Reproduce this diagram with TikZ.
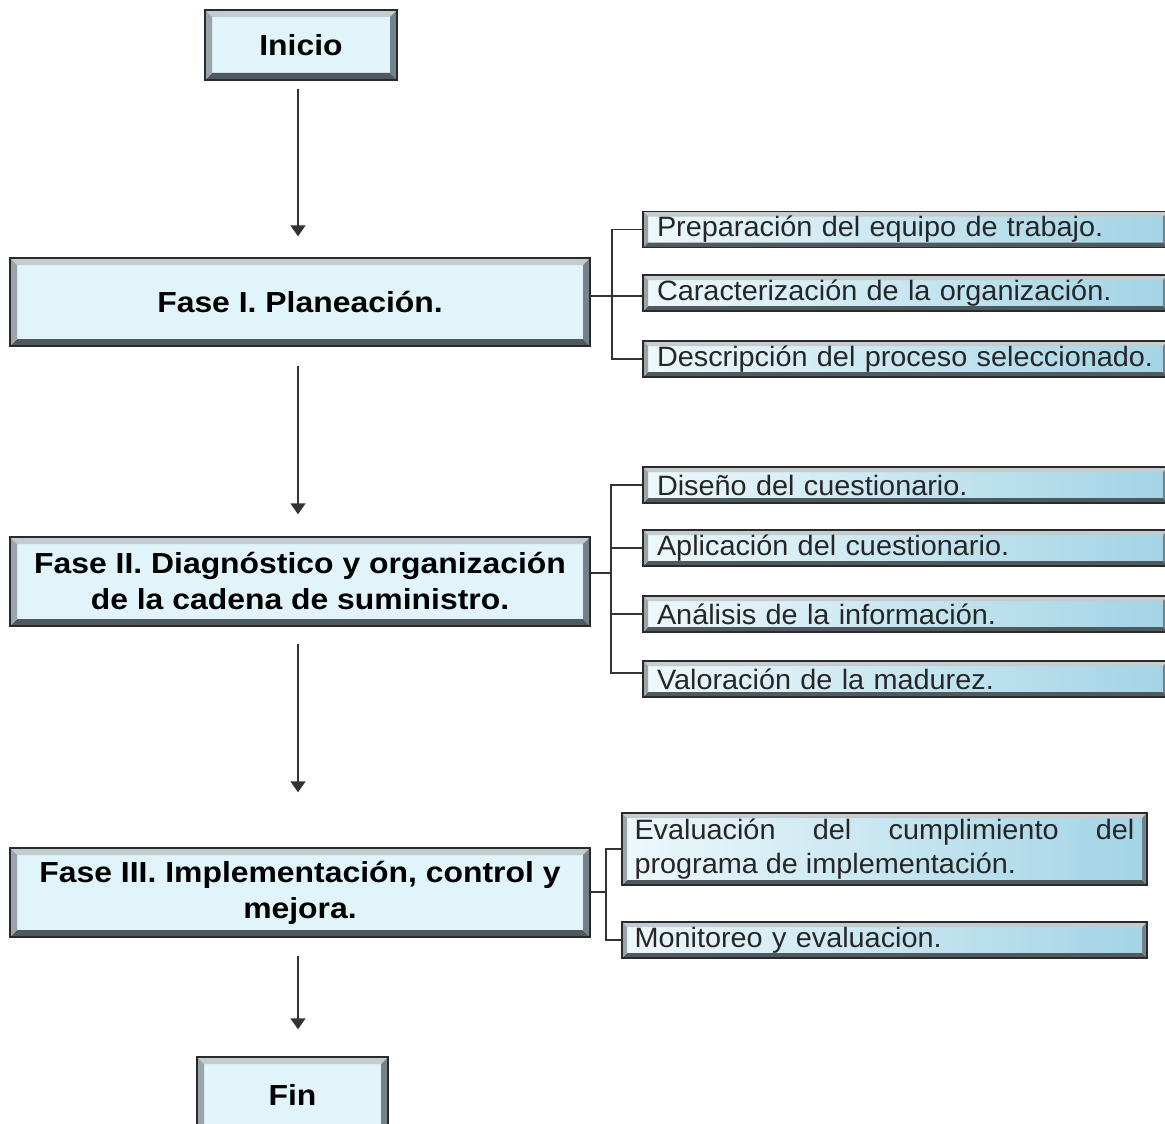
\documentclass[tikz,border=0pt]{standalone}
\usepackage{fontspec}
\setmainfont{Liberation Sans}
\newfontfamily\widefont[FakeStretch=1.1]{Liberation Sans}
\newfontfamily\subfont[FakeStretch=1.03]{Liberation Sans}
\usetikzlibrary{arrows.meta}
\definecolor{boxfill}{HTML}{E0F4FA}
\definecolor{boxline}{HTML}{2A2A2A}
\definecolor{bevtop}{HTML}{C4CCD0}
\definecolor{bevbot}{HTML}{4F5A60}
\definecolor{bevleft}{HTML}{9AA4A9}
\definecolor{bevright}{HTML}{76828A}
\definecolor{subleft}{HTML}{EEF8FB}
\definecolor{subright}{HTML}{A2D4E6}
\definecolor{linecol}{HTML}{333333}
\tikzset{
  bevel/.style={path picture={
    \coordinate (nw) at (path picture bounding box.north west);
    \coordinate (ne) at (path picture bounding box.north east);
    \coordinate (sw) at (path picture bounding box.south west);
    \coordinate (se) at (path picture bounding box.south east);
    \fill[bevtop] (nw) -- (ne) -- ([xshift=-#1,yshift=-#1]ne) -- ([xshift=#1,yshift=-#1]nw) -- cycle;
    \fill[bevbot] (sw) -- (se) -- ([xshift=-#1,yshift=#1]se) -- ([xshift=#1,yshift=#1]sw) -- cycle;
    \fill[bevleft] (nw) -- (sw) -- ([xshift=#1,yshift=#1]sw) -- ([xshift=#1,yshift=-#1]nw) -- cycle;
    \fill[bevright] (ne) -- (se) -- ([xshift=-#1,yshift=#1]se) -- ([xshift=-#1,yshift=-#1]ne) -- cycle;
  }},
  mainbox/.style={draw=boxline, line width=1.4pt, fill=boxfill, bevel=7pt,
    font=\widefont\fontsize{29}{36}\selectfont\bfseries, align=center, inner sep=0pt,
    text=black},
  subbox/.style={draw=boxline, line width=1.4pt, left color=subleft, right color=subright,
    bevel=5pt, font=\subfont\fontsize{28}{34}\selectfont, align=left, inner xsep=14pt,
    inner ysep=0pt, text width=497pt, minimum height=36pt, text=black!85},
  arr/.style={draw=linecol, line width=1.6pt, -{Triangle[width=15pt,length=11pt]}},
  conn/.style={draw=linecol, line width=1.3pt},
}
\begin{document}
\begin{tikzpicture}[x=1pt,y=-1pt]
\useasboundingbox[fill=white] (0,0) rectangle (1165,1124);
% main column
\node[mainbox, minimum width=192pt, minimum height=70pt] (inicio) at (301,45) {Inicio};
\node[mainbox, minimum width=580pt, minimum height=88pt] (fase1) at (300,302) {Fase I. Planeación.};
\node[mainbox, minimum width=580pt, minimum height=89pt] (fase2) at (300,581.5) {Fase II. Diagnóstico y organización\\de la cadena de suministro.};
\node[mainbox, minimum width=580pt, minimum height=89pt] (fase3) at (300,892.5) {Fase III. Implementación, control y\\mejora.};
\node[mainbox, minimum width=191pt, minimum height=76pt] (fin) at (292.5,1095) {Fin};
% arrows
\draw[arr, shorten <=8pt, shorten >=21pt] ([xshift=-3pt]inicio.south) -- ([xshift=-3pt]inicio.south |- fase1.north);
\draw[arr, shorten <=19pt, shorten >=22pt] ([xshift=-2pt]fase1.south) -- ([xshift=-2pt]fase1.south |- fase2.north);
\draw[arr, shorten <=17pt, shorten >=55pt] ([xshift=-2pt]fase2.south) -- ([xshift=-2pt]fase2.south |- fase3.north);
\draw[arr, shorten <=18pt, shorten >=27pt] ([xshift=-2pt]fase3.south) -- ([xshift=-2pt]fase3.south |- fin.north);
% group 1
\node[subbox, minimum width=525pt] (s11) at (905.5,229.5) {Preparación del equipo de trabajo.};
\node[subbox, minimum width=525pt] (s12) at (905.5,293) {Caracterización de la organización.};
\node[subbox, minimum width=525pt] (s13) at (905.5,359) {Descripción del proceso seleccionado.};
\coordinate (b1) at (612,296);
\draw[conn] (fase1.east |- b1) -- (b1);
\draw[conn] (s11.west) -| (b1) |- (s13.west);
\draw[conn] (b1) -- (s12.west |- b1);
% group 2
\node[subbox, minimum width=525pt] (s21) at (905.5,485) {Diseño del cuestionario.};
\node[subbox, minimum width=525pt] (s22) at (905.5,548) {Aplicación del cuestionario.};
\node[subbox, minimum width=525pt] (s23) at (905.5,614) {Análisis de la información.};
\node[subbox, minimum width=525pt] (s24) at (905.5,679) {Valoración de la madurez.};
\coordinate (b2) at (611,573);
\draw[conn] (fase2.east |- b2) -- (b2);
\draw[conn] (s21.west) -| (b2) |- ([yshift=6pt]s24.west);
\draw[conn] (s22.west) -- (b2 |- s22.west);
\draw[conn] (s23.west) -- (b2 |- s23.west);
% group 3
\node[subbox, minimum width=525pt, minimum height=72pt, align=justify, text width=500pt, inner xsep=12pt] (s31) at (884.5,849) {Evaluación del cumplimiento del\linebreak programa de implementación.};
\node[subbox, minimum width=525pt, text width=500pt, inner xsep=12pt] (s32) at (884.5,940) {Monitoreo y evaluacion.};
\coordinate (b3) at (606,892);
\draw[conn] (fase3.east |- b3) -- (b3);
\draw[conn] (s31.west) -| (b3) |- (s32.west);
\end{tikzpicture}
\end{document}
